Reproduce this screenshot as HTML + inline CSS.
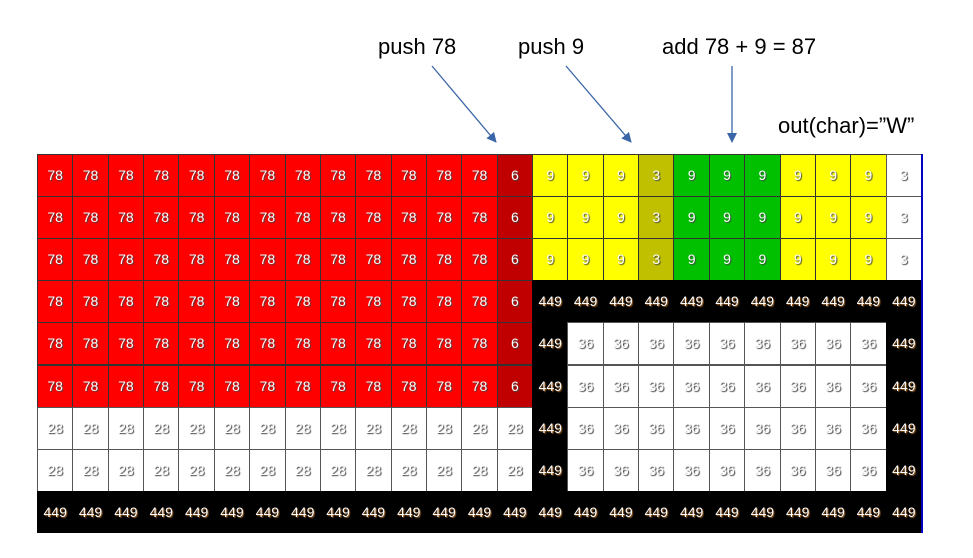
<!DOCTYPE html>
<html><head><meta charset="utf-8"><style>
body{margin:0;background:#fff;width:973px;height:558px;overflow:hidden;font-family:"Liberation Sans",sans-serif;}
#wrap{position:relative;width:973px;height:558px;}
.ann{position:absolute;font-size:22px;color:#000;white-space:nowrap;}
#grid{position:absolute;left:37px;top:154px;width:886px;height:379px;overflow:hidden;border-right:2px solid #0000c0;box-sizing:border-box;}
.cell{position:absolute;box-sizing:border-box;border:1px solid #333;font-size:14px;font-weight:normal;color:#fff;text-align:center;text-shadow:1px 1px 1px #444;}
</style></head><body>
<div id="wrap">
<div class="ann" style="left:378px;top:34px;">push 78</div>
<div class="ann" style="left:518px;top:34px;">push 9</div>
<div class="ann" style="left:662px;top:34px;">add 78 + 9 = 87</div>
<div class="ann" style="left:778px;top:113px;">out(char)=”W”</div>
<svg width="973" height="160" style="position:absolute;left:0;top:0">
<defs><marker id="ah" markerWidth="10" markerHeight="10" refX="9" refY="5" orient="auto" markerUnits="userSpaceOnUse" viewBox="0 0 10 10"><path d="M0,0 L10,5 L0,10 z" fill="#3a66a7"/></marker></defs>
<line x1="432" y1="66" x2="496" y2="142" stroke="#3a66a7" stroke-width="1.3" marker-end="url(#ah)"/>
<line x1="566" y1="66" x2="631" y2="142" stroke="#3a66a7" stroke-width="1.3" marker-end="url(#ah)"/>
<line x1="732" y1="66" x2="732" y2="142" stroke="#3a66a7" stroke-width="1.3" marker-end="url(#ah)"/>
</svg>
<div id="grid"></div>
</div>
<script>
const rowSpecs = [
 [["78","r",13],["6","d",1],["9","y",3],["3","o",1],["9","g",3],["9","y",3],["3","w",1]],
 [["78","r",13],["6","d",1],["9","y",3],["3","o",1],["9","g",3],["9","y",3],["3","w",1]],
 [["78","r",13],["6","d",1],["9","y",3],["3","o",1],["9","g",3],["9","y",3],["3","w",1]],
 [["78","r",13],["6","d",1],["449","k",11]],
 [["78","r",13],["6","d",1],["449","k",1],["36","w",9],["449","k",1]],
 [["78","r",13],["6","d",1],["449","k",1],["36","w",9],["449","k",1]],
 [["28","w",14],["449","k",1],["36","w",9],["449","k",1]],
 [["28","w",14],["449","k",1],["36","w",9],["449","k",1]],
 [["449","k",25]],
 [["","w",6],["","k",1],["","b",7],["","k",1],["","r",9],["","k",1]]
];
const colors = {r:"#ff0000",d:"#c00000",y:"#ffff00",o:"#c0c000",g:"#00c000",w:"#ffffff",k:"#000000",b:"#0000c0"};
const cw = 884/25, rh = 42.1;
const grid = document.getElementById('grid');
rowSpecs.forEach((row, ri) => {
  let c = 0;
  row.forEach(([v, k, n]) => {
    for (let i = 0; i < n; i++, c++) {
      const el = document.createElement('div');
      el.className = 'cell';
      
      
      el.style.left = (c * cw) + 'px';
      el.style.top = (ri * rh) + 'px';
      el.style.width = (cw + 1) + 'px';
      el.style.height = (rh + 1) + 'px';
      el.style.lineHeight = (rh - 2) + 'px';
      el.style.background = colors[k];
      if (k === 'k') { el.style.borderColor = '#000'; el.style.textShadow = '1px 1px 1px #a06020'; }
      if (k === 'w') { el.style.borderColor = '#555'; el.style.textShadow = '1px 1px 1px #333'; }
      el.textContent = v;
      grid.appendChild(el);
    }
  });
});
</script>
</body></html>
